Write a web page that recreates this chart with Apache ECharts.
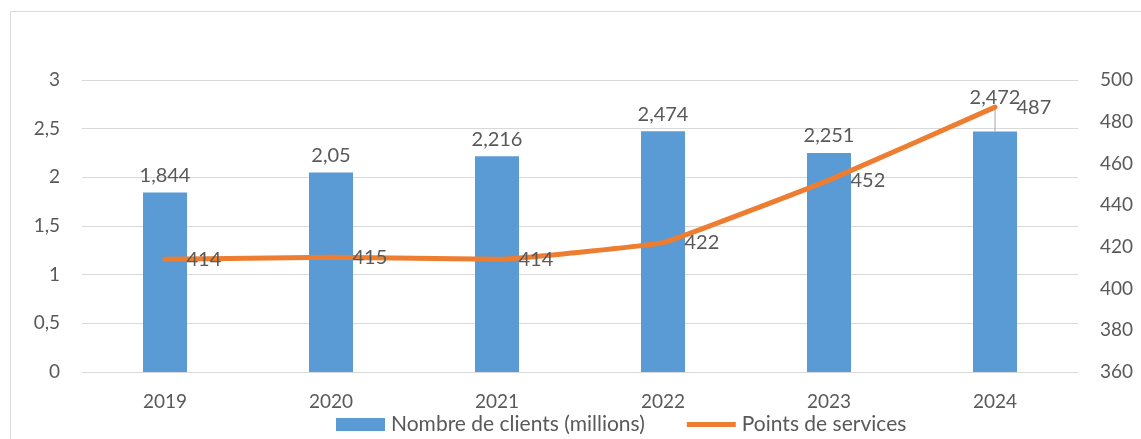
<!DOCTYPE html>
<html>
<head>
<meta charset="utf-8">
<script src="https://cdn.jsdelivr.net/npm/echarts@6/dist/echarts.min.js"></script>
<style>
  html, body { margin: 0; padding: 0; background: #fff; }
  #chart { width: 1141px; height: 439px; }
</style>
</head>
<body>
<div id="chart"></div>
<script>
// Years on the category axis
const years = ['2019', '2020', '2021', '2022', '2023', '2024'];
// Number of clients, in millions
const clients = [1.844, 2.05, 2.216, 2.474, 2.251, 2.472];
// Service points
const points = [414, 415, 414, 422, 452, 487];

const FONT = 'Lato';
const TEXT = '#595959';
const LINE = '#d9d9d9';
const frNum = v => String(v).replace('.', ',');

const chart = echarts.init(document.getElementById('chart'), null, { renderer: 'canvas' });

// The last bar label is lifted above the line, with a short leader line
const barData = clients.map((v, i) => {
  if (i === clients.length - 1) {
    return { value: v, labelLine: { show: true, lineStyle: { color: '#a6a6a6', width: 1 } } };
  }
  return v;
});

chart.setOption({
  animation: false,
  textStyle: { fontFamily: FONT },
  graphic: [{
    type: 'rect',
    shape: { x: 10.5, y: 11.5, width: 1200, height: 600 },
    style: { fill: 'none', stroke: LINE, lineWidth: 1 },
    silent: true
  }],
  grid: { left: 82, right: 63, top: 80, bottom: 67 },
  legend: {
    top: 414,
    left: 336,
    padding: 0,
    itemWidth: 49,
    itemHeight: 13,
    itemGap: 42,
    textStyle: { color: TEXT, fontSize: 21, fontFamily: FONT, padding: [0, 0, 0, 1] },
    data: [
      { name: 'Nombre de clients (millions)', icon: 'rect' },
      { name: 'Points de services', icon: 'path://M0,0h49v5h-49z' }
    ]
  },
  xAxis: {
    type: 'category',
    data: years,
    axisTick: { show: false },
    axisLine: { lineStyle: { color: LINE, width: 1 } },
    axisLabel: { color: TEXT, fontSize: 19, margin: 20, fontFamily: FONT }
  },
  yAxis: [
    {
      type: 'value', min: 0, max: 3, interval: 0.5,
      axisLine: { show: false }, axisTick: { show: false },
      splitLine: { lineStyle: { color: LINE, width: 1 } },
      axisLabel: { color: TEXT, fontSize: 19, margin: 22, fontFamily: FONT, formatter: frNum }
    },
    {
      type: 'value', min: 360, max: 500, interval: 20,
      axisLine: { show: false }, axisTick: { show: false },
      splitLine: { show: false },
      axisLabel: { color: TEXT, fontSize: 19, margin: 22, fontFamily: FONT }
    }
  ],
  series: [
    {
      name: 'Nombre de clients (millions)',
      type: 'bar',
      data: barData,
      barWidth: 44,
      itemStyle: { color: '#5b9bd5' },
      label: {
        show: true, position: 'top', distance: 7,
        color: TEXT, fontSize: 20, fontFamily: FONT,
        formatter: p => frNum(p.value)
      },
      labelLayout: p => (p.dataIndex === clients.length - 1 ? { dy: -17 } : {})
    },
    {
      name: 'Points de services',
      type: 'line',
      yAxisIndex: 1,
      data: points,
      smooth: 0.08,
      symbol: 'circle',
      symbolSize: 1,
      showSymbol: true,
      lineStyle: { color: '#ed7d31', width: 5, cap: 'round', join: 'round' },
      itemStyle: { color: '#ed7d31' },
      label: {
        show: true, position: 'right', distance: 21,
        color: TEXT, fontSize: 20, fontFamily: FONT
      },
      z: 5
    }
  ]
});
</script>
</body>
</html>
